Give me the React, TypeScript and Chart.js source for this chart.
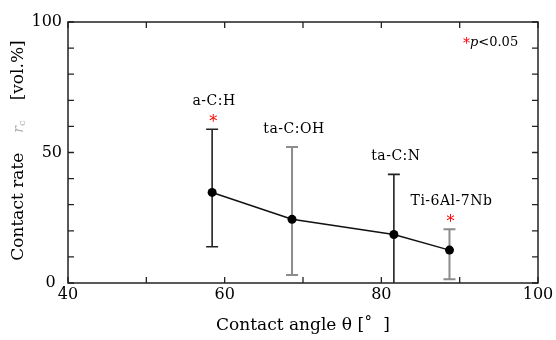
import React, { useEffect, useRef } from 'react';
import { Chart, registerables } from 'chart.js';

Chart.register(...registerables);

// ---- data ----
const materials = ['a-C:H', 'ta-C:OH', 'ta-C:N', 'Ti-6Al-7Nb'];
const contactAngle = [58.4, 68.6, 81.6, 88.7];
const contactRate = [34.7, 24.4, 18.6, 12.6];
const rateUpper = [58.9, 52.1, 41.6, 20.6];
const rateLower = [13.9, 3.1, 0, 1.4];
const significant = [true, false, false, true];
const barDark = [true, false, true, false];

const xTickValues = [40, 60, 80, 100];
const yTickValues = [0, 50, 100];
const xMinorTicks = [40, 50, 60, 70, 80, 90, 100];
const yMinorTicks = [0, 10, 20, 30, 40, 50, 60, 70, 80, 90, 100];

const SERIF = '"DejaVu Serif", "Liberation Serif", serif';

const decor = {
  id: 'decor',
  beforeDatasetsDraw(chart: any) {
    const { ctx, scales } = chart;
    const xs = scales.x;
    const ys = scales.y;
    ctx.save();
    contactAngle.forEach((a, i) => {
      const px = xs.getPixelForValue(a);
      const top = ys.getPixelForValue(rateUpper[i]);
      const bot = ys.getPixelForValue(rateLower[i]);
      ctx.strokeStyle = barDark[i] ? '#222' : '#8c8c8c';
      ctx.lineWidth = barDark[i] ? 1.6 : 2;
      ctx.beginPath();
      ctx.moveTo(px, top);
      ctx.lineTo(px, bot);
      ctx.moveTo(px - 6, top);
      ctx.lineTo(px + 6, top);
      if (rateLower[i] > 0) {
        ctx.moveTo(px - 6, bot);
        ctx.lineTo(px + 6, bot);
      }
      ctx.stroke();
    });
    ctx.restore();
  },
  afterDraw(chart: any) {
    const { ctx, chartArea, scales } = chart;
    const xs = scales.x;
    const ys = scales.y;
    const { left, right, top, bottom } = chartArea;
    ctx.save();
    // frame
    ctx.strokeStyle = '#222';
    ctx.lineWidth = 1.5;
    ctx.strokeRect(left, top, right - left, bottom - top);
    // inward ticks
    ctx.lineWidth = 1.3;
    ctx.beginPath();
    xMinorTicks.forEach((v) => {
      const px = xs.getPixelForValue(v);
      ctx.moveTo(px, bottom);
      ctx.lineTo(px, bottom - 6);
      ctx.moveTo(px, top);
      ctx.lineTo(px, top + 6);
    });
    yMinorTicks.forEach((v) => {
      const py = ys.getPixelForValue(v);
      ctx.moveTo(left, py);
      ctx.lineTo(left + 6, py);
      ctx.moveTo(right, py);
      ctx.lineTo(right - 6, py);
    });
    ctx.stroke();

    // annotations
    ctx.textAlign = 'center';
    ctx.textBaseline = 'middle';
    materials.forEach((m, i) => {
      const px = xs.getPixelForValue(contactAngle[i]);
      const capY = ys.getPixelForValue(rateUpper[i]);
      let labelY = capY - 18;
      if (significant[i]) {
        ctx.fillStyle = '#ff0000';
        ctx.font = `16px ${SERIF}`;
        ctx.fillText('*', px + 1, capY - 6);
        labelY = capY - 28;
      }
      ctx.fillStyle = '#000';
      ctx.font = `14px ${SERIF}`;
      (ctx as any).letterSpacing = '0.5px';
      ctx.fillText(m, px + 2, labelY);
      (ctx as any).letterSpacing = '0px';
    });

    // significance legend
    ctx.textAlign = 'left';
    ctx.fillStyle = '#ff0000';
    ctx.font = `14px ${SERIF}`;
    ctx.fillText('*', right - 75, top + 22);
    ctx.fillStyle = '#000';
    ctx.font = `italic 13px ${SERIF}`;
    ctx.fillText('p', right - 68, top + 21);
    const pw = ctx.measureText('p').width;
    ctx.font = `13px ${SERIF}`;
    ctx.fillText('<0.05', right - 68 + pw, top + 21);

    // y axis title (mixed colours)
    const part1 = 'Contact rate';
    const part3 = '[vol.%]';
    ctx.font = `17px ${SERIF}`;
    const w1 = ctx.measureText(part1).width;
    const w3 = ctx.measureText(part3).width;
    ctx.font = `italic 14px ${SERIF}`;
    const wr = ctx.measureText('r').width;
    ctx.font = `10px ${SERIF}`;
    const wc = ctx.measureText('c').width;
    const gap = 20;
    const total = w1 + gap + wr + wc + gap + w3;
    const cy = (top + bottom) / 2 - 2;
    ctx.translate(19, cy + total / 2);
    ctx.rotate(-Math.PI / 2);
    ctx.textBaseline = 'middle';
    ctx.textAlign = 'left';
    let x = 0;
    ctx.fillStyle = '#000';
    ctx.font = `17px ${SERIF}`;
    ctx.fillText(part1, x, 0);
    x += w1 + gap;
    ctx.fillStyle = '#b0b0b0';
    ctx.font = `italic 14px ${SERIF}`;
    ctx.fillText('r', x, 0);
    x += wr;
    ctx.font = `10px ${SERIF}`;
    ctx.fillText('c', x, 3);
    x += wc + gap;
    ctx.fillStyle = '#000';
    ctx.font = `17px ${SERIF}`;
    ctx.fillText(part3, x, 0);
    ctx.restore();
  },
};

export default function App() {
  const ref = useRef<HTMLCanvasElement>(null);
  useEffect(() => {
    const canvas = ref.current;
    if (!canvas) return;
    const chart = new Chart(canvas, {
      type: 'line',
      data: {
        datasets: [
          {
            data: contactAngle.map((a, i) => ({ x: a, y: contactRate[i] })),
            borderColor: '#111',
            borderWidth: 1.5,
            pointRadius: 4.5,
            pointBackgroundColor: '#000',
            pointBorderColor: '#000',
            pointBorderWidth: 0,
            fill: false,
            tension: 0,
          },
        ],
      },
      options: {
        responsive: false,
        animation: false,
        devicePixelRatio: 1,
        layout: { padding: { top: 22, right: 18, left: 0, bottom: 0 } },
        plugins: { legend: { display: false }, tooltip: { enabled: false } },
        scales: {
          x: {
            type: 'linear',
            min: 40,
            max: 100,
            afterBuildTicks: (s: any) => {
              s.ticks = xTickValues.map((v) => ({ value: v }));
            },
            ticks: {
              font: { family: SERIF, size: 16 },
              color: '#000',
              padding: 2,
              maxRotation: 0,
              autoSkip: false,
            },
            grid: { display: false, drawTicks: false },
            border: { display: false },
            title: {
              display: true,
              text: 'Contact angle θ [˚  ]',
              font: { family: SERIF, size: 17 },
              color: '#000',
              padding: { top: 0, bottom: 4 },
            },
            afterFit: (s: any) => {
              s.height = 57;
            },
          },
          y: {
            type: 'linear',
            min: 0,
            max: 100,
            afterBuildTicks: (s: any) => {
              s.ticks = yTickValues.map((v) => ({ value: v }));
            },
            ticks: {
              font: { family: SERIF, size: 16 },
              color: '#000',
              padding: 6,
              autoSkip: false,
              callback: (v: any) => (v === 0 ? '0\u2009\u2009' : String(v)),
            },
            grid: { display: false, drawTicks: false },
            border: { display: false },
            afterFit: (s: any) => {
              s.width = 68;
            },
          },
        },
      },
      plugins: [decor],
    });
    return () => chart.destroy();
  }, []);
  return (
    <div style={{ position: 'absolute', left: 0, top: 0, width: 556, height: 340, background: '#fff' }}>
      <canvas ref={ref} width={556} height={340} />
    </div>
  );
}
